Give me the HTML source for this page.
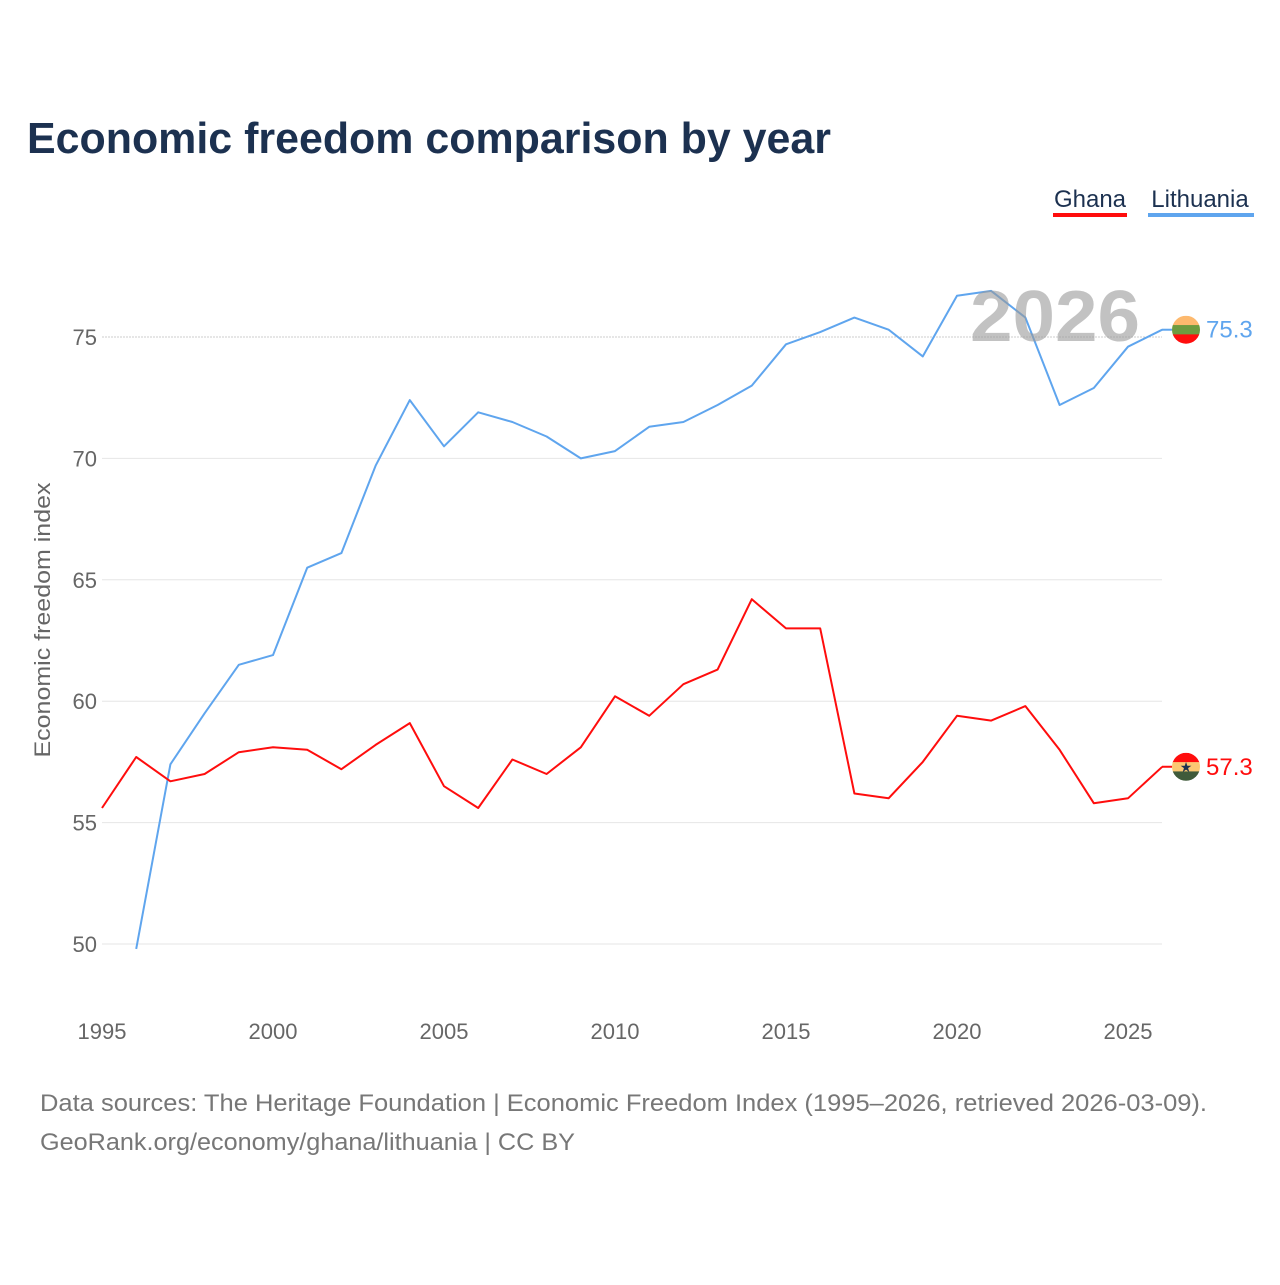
<!DOCTYPE html>
<html><head><meta charset="utf-8"><style>
body{margin:0;background:#fff;font-family:"Liberation Sans",sans-serif}
</style></head><body>
<svg width="1280" height="1280" viewBox="0 0 1280 1280" xmlns="http://www.w3.org/2000/svg" style="font-family:'Liberation Sans',sans-serif">
<rect width="1280" height="1280" fill="#fff"/>
<text x="27" y="153" font-size="44" font-weight="bold" fill="#1c3150" textLength="804" lengthAdjust="spacingAndGlyphs">Economic freedom comparison by year</text>
<g>
<text x="1090" y="207" font-size="24" fill="#1c3150" text-anchor="middle">Ghana</text>
<rect x="1053" y="213" width="74" height="4" fill="#ff0d0d"/>
<text x="1200" y="207" font-size="24" fill="#1c3150" text-anchor="middle">Lithuania</text>
<rect x="1148" y="213" width="106" height="4" fill="#5fa5ee"/>
</g>
<g id="grid"></g>
<g id="yticks"></g>
<g id="xticks"></g>
<text transform="translate(50,620) rotate(-90)" font-size="22" fill="#666" text-anchor="middle" textLength="275" lengthAdjust="spacingAndGlyphs">Economic freedom index</text>
<g id="series"></g>
<text x="970" y="341" font-size="72" font-weight="bold" fill="#999" fill-opacity="0.6" textLength="170" lengthAdjust="spacingAndGlyphs">2026</text>
<g id="ends"></g>
<text x="40" y="1111" font-size="24" fill="#777" textLength="1167" lengthAdjust="spacingAndGlyphs">Data sources: The Heritage Foundation | Economic Freedom Index (1995–2026, retrieved 2026-03-09).</text>
<text x="40" y="1150" font-size="24" fill="#777" textLength="535" lengthAdjust="spacingAndGlyphs">GeoRank.org/economy/ghana/lithuania | CC BY</text>
</svg>
<script>
const years=[1995,1996,1997,1998,1999,2000,2001,2002,2003,2004,2005,2006,2007,2008,2009,2010,2011,2012,2013,2014,2015,2016,2017,2018,2019,2020,2021,2022,2023,2024,2025,2026];
const ghana=[55.6,57.7,56.7,57.0,57.9,58.1,58.0,57.2,58.2,59.1,56.5,55.6,57.6,57.0,58.1,60.2,59.4,60.7,61.3,64.2,63.0,63.0,56.2,56.0,57.5,59.4,59.2,59.8,58.0,55.8,56.0,57.3];
const lithuania=[null,49.8,57.4,59.5,61.5,61.9,65.5,66.1,69.7,72.4,70.5,71.9,71.5,70.9,70.0,70.3,71.3,71.5,72.2,73.0,74.7,75.2,75.8,75.3,74.2,76.7,76.9,75.8,72.2,72.9,74.6,75.3];
const yTicks=[50,55,60,65,70,75];
const xTicks=[1995,2000,2005,2010,2015,2020,2025];
const X=y=>102+(y-1995)*34.2;
const Y=v=>337+(75-v)*24.28;
const NS="http://www.w3.org/2000/svg";
function mk(t,a,p){const e=document.createElementNS(NS,t);for(const k in a)e.setAttribute(k,a[k]);p.appendChild(e);return e;}
const grid=document.getElementById('grid'),yt=document.getElementById('yticks'),xt=document.getElementById('xticks');
yTicks.forEach(v=>{
 const l=mk('line',{x1:102,x2:1162,y1:Y(v),y2:Y(v),stroke:v===75?'#ccc':'#e6e6e6','stroke-width':1,'stroke-dasharray':v===75?'2,1':'none'},grid);
 
 
 const t=mk('text',{x:97,y:Y(v)+8,'font-size':22,fill:'#666','text-anchor':'end'},yt);t.textContent=v;
 
 
});
xTicks.forEach(y=>{
 const t=mk('text',{x:X(y),y:1039,'font-size':22,fill:'#666','text-anchor':'middle'},xt);t.textContent=y;
 
 
});
const sg=document.getElementById('series');
function line(vals,color,name){
 const pts=[];vals.forEach((v,i)=>{if(v!=null)pts.push(X(years[i]).toFixed(1)+','+Y(v).toFixed(1));});
 const p=mk('polyline',{points:pts.join(' '),fill:'none',stroke:color,'stroke-width':2,'stroke-linejoin':'round'},sg);
 
 
}
line(lithuania,'#5fa5ee','line-lithuania');
line(ghana,'#ff0d0d','line-ghana');
const eg=document.getElementById('ends');
function endMark(vals,colors,color,name){
 const v=vals[vals.length-1],cy=Y(v),cx=1186;
 const g=mk('g',{},eg);
 
 
 mk('line',{x1:1162,x2:cx-14,y1:cy,y2:cy,stroke:color,'stroke-width':2},g);
 const id='c'+name;const cp=mk('clipPath',{id:id},g);mk('circle',{cx:cx,cy:cy,r:14},cp);
 colors.forEach((c,i)=>mk('rect',{x:cx-14,y:cy-14+i*28/3,width:28,height:28/3+0.5,fill:c,'clip-path':'url(#'+id+')'},g));
 if(name==='ghana'){const s=mk('text',{x:cx,y:cy+5,'font-size':14,fill:'#1c3150','text-anchor':'middle'},g);s.textContent='★';}
 const t=mk('text',{x:1206,y:cy+8,'font-size':24,fill:color},g);t.textContent=v.toFixed(1);
 
 
}
endMark(lithuania,['#fdb96e','#6d9b40','#ff0d0d'],'#5fa5ee','lithuania');
endMark(ghana,['#ff0d0d','#fcc873','#3f5a3a'],'#ff0d0d','ghana');
</script>
</body></html>
